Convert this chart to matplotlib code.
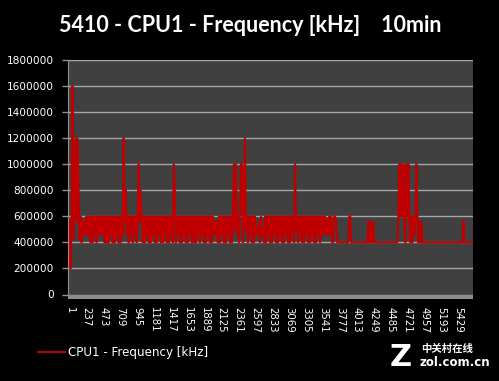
import matplotlib.pyplot as plt
import matplotlib.patches as mpatches
import numpy as np

# CPU1 frequency, read off the chart roughly once per pixel column (values in MHz = kHz/1000)
freq_mhz = [
    560, 200, 560, 1600, 420, 800, 1200, 560, 1200, 800,
    420, 600, 400, 560, 460, 560, 460, 600, 460, 600,
    460, 400, 600, 400, 600, 460, 600, 400, 600, 460,
    600, 460, 600, 460, 600, 400, 600, 400, 600, 400,
    600, 460, 600, 400, 600, 400, 600, 460, 600, 400,
    600, 400, 600, 460, 1200, 560, 800, 460, 600, 400,
    600, 460, 600, 400, 600, 460, 600, 400, 600, 1000,
    560, 800, 600, 400, 600, 400, 600, 460, 600, 400,
    600, 400, 600, 460, 600, 400, 600, 400, 600, 460,
    600, 400, 600, 400, 600, 460, 600, 400, 600, 400,
    600, 460, 600, 400, 1000, 800, 400, 600, 460, 600,
    400, 600, 400, 600, 460, 600, 400, 600, 400, 600,
    460, 600, 400, 600, 400, 600, 400, 600, 460, 600,
    400, 600, 460, 600, 400, 600, 400, 600, 460, 600,
    400, 600, 400, 600, 460, 560, 460, 560, 400, 600,
    400, 600, 460, 600, 400, 600, 400, 600, 460, 600,
    400, 600, 400, 600, 1000, 500, 1000, 460, 600, 400,
    600, 1000, 1000, 400, 600, 1200, 500, 600, 400, 600,
    460, 600, 400, 600, 400, 600, 460, 500, 460, 560,
    400, 600, 460, 500, 400, 600, 400, 600, 460, 600,
    400, 600, 400, 600, 460, 600, 400, 600, 400, 600,
    460, 600, 400, 600, 400, 600, 460, 600, 400, 600,
    400, 600, 460, 600, 400, 1000, 500, 600, 400, 600,
    460, 600, 400, 600, 400, 600, 460, 600, 400, 600,
    400, 600, 460, 600, 400, 600, 400, 600, 460, 600,
    400, 600, 460, 600, 460, 600, 460, 560, 460, 600,
    470, 600, 400, 400, 600, 600, 560, 400, 400, 400,
    400, 400, 400, 400, 400, 400, 400, 400, 400, 600,
    600, 400, 400, 400, 400, 400, 400, 400, 400, 400,
    400, 400, 400, 400, 400, 400, 400, 400, 560, 400,
    560, 400, 400, 560, 400, 400, 400, 400, 400, 400,
    400, 400, 400, 400, 400, 400, 400, 400, 400, 400,
    400, 400, 400, 400, 400, 400, 400, 400, 600, 1000,
    600, 1000, 600, 1000, 600, 400, 1000, 600, 1000, 600,
    400, 600, 400, 600, 460, 600, 1000, 600, 400, 560,
    400, 560, 400, 400, 400, 400, 400, 400, 400, 400,
    400, 400, 400, 400, 400, 400, 400, 400, 400, 400,
    400, 400, 400, 400, 400, 400, 400, 400, 400, 400,
    400, 400, 400, 400, 400, 400, 400, 400, 400, 400,
    400, 400, 400, 560, 400, 400, 400, 400, 400, 400,
    400, 400, 400, 400, 400,
]
sample_step = 14  # samples per value above
x_labels = list(range(1, 5430, 236))
y_ticks = list(range(0, 1800001, 200000))

freq = np.array(freq_mhz) * 1000
samples = 1 + sample_step * np.arange(len(freq))

fig = plt.figure(figsize=(4.99, 3.81), dpi=100, facecolor='black')
W, H = 499, 381
ax = fig.add_axes([68 / W, 1 - 294.5 / H, 405.3 / W, 234.5 / H])
ax.set_facecolor('#404040')

ax.plot(samples, freq, color='#c00000', linewidth=1.5, label='CPU1 - Frequency [kHz]')

ax.set_xlim(-20, 5640)
ax.set_ylim(0, 1800000)
ax.set_yticks(y_ticks)
ax.set_yticklabels([str(v) for v in y_ticks])
ax.set_xticks(x_labels)
ax.set_xticklabels([str(v) for v in x_labels], rotation=270)
ax.yaxis.grid(True, color='#a6a6a6', linewidth=1)
ax.set_axisbelow(True)

ax.tick_params(axis='y', colors='#909090', length=4, width=1, pad=6,
               labelcolor='white', labelsize=7.6)
ax.tick_params(axis='x', length=0, pad=9, labelcolor='white', labelsize=7.3)
for lbl in ax.get_xticklabels():
    lbl.set_verticalalignment('top')

for s in ['top', 'right', 'bottom']:
    ax.spines[s].set_visible(False)
ax.spines['left'].set_color('#909090')

# grey floor strip under the plot
ax.add_patch(mpatches.Rectangle((0, -4.5 / 234.5), 1, 4.5 / 234.5, transform=ax.transAxes,
                                clip_on=False, color='#8c8c8c', linewidth=0))

fig.text(250 / W, 1 - 25 / H, '5410 - CPU1 - Frequency [kHz]    10min', color='white',
         fontsize=15.5, fontweight='bold', family='Lato', ha='center', va='center')

leg = fig.legend(loc='center left', bbox_to_anchor=(38 / W, 1 - 352.7 / H), frameon=False,
                 fontsize=8.6, labelcolor='white', handlelength=2.25, handletextpad=0.25,
                 borderpad=0, borderaxespad=0)

# watermark
fig.text(401 / W, 1 - 357 / H, 'Z', color='white', fontsize=22, fontweight='bold',
         ha='center', va='center')
fig.text(421 / W, 1 - 349 / H, '中关村在线', color='white', fontsize=7.5, fontweight='bold',
         family=['Noto Sans CJK SC', 'DejaVu Sans'], ha='left', va='center')
fig.text(420 / W, 1 - 363 / H, 'zol.com.cn', color='white', fontsize=8.5, fontweight='bold',
         ha='left', va='center')

fig.savefig('out.png', dpi=100, facecolor='black')
